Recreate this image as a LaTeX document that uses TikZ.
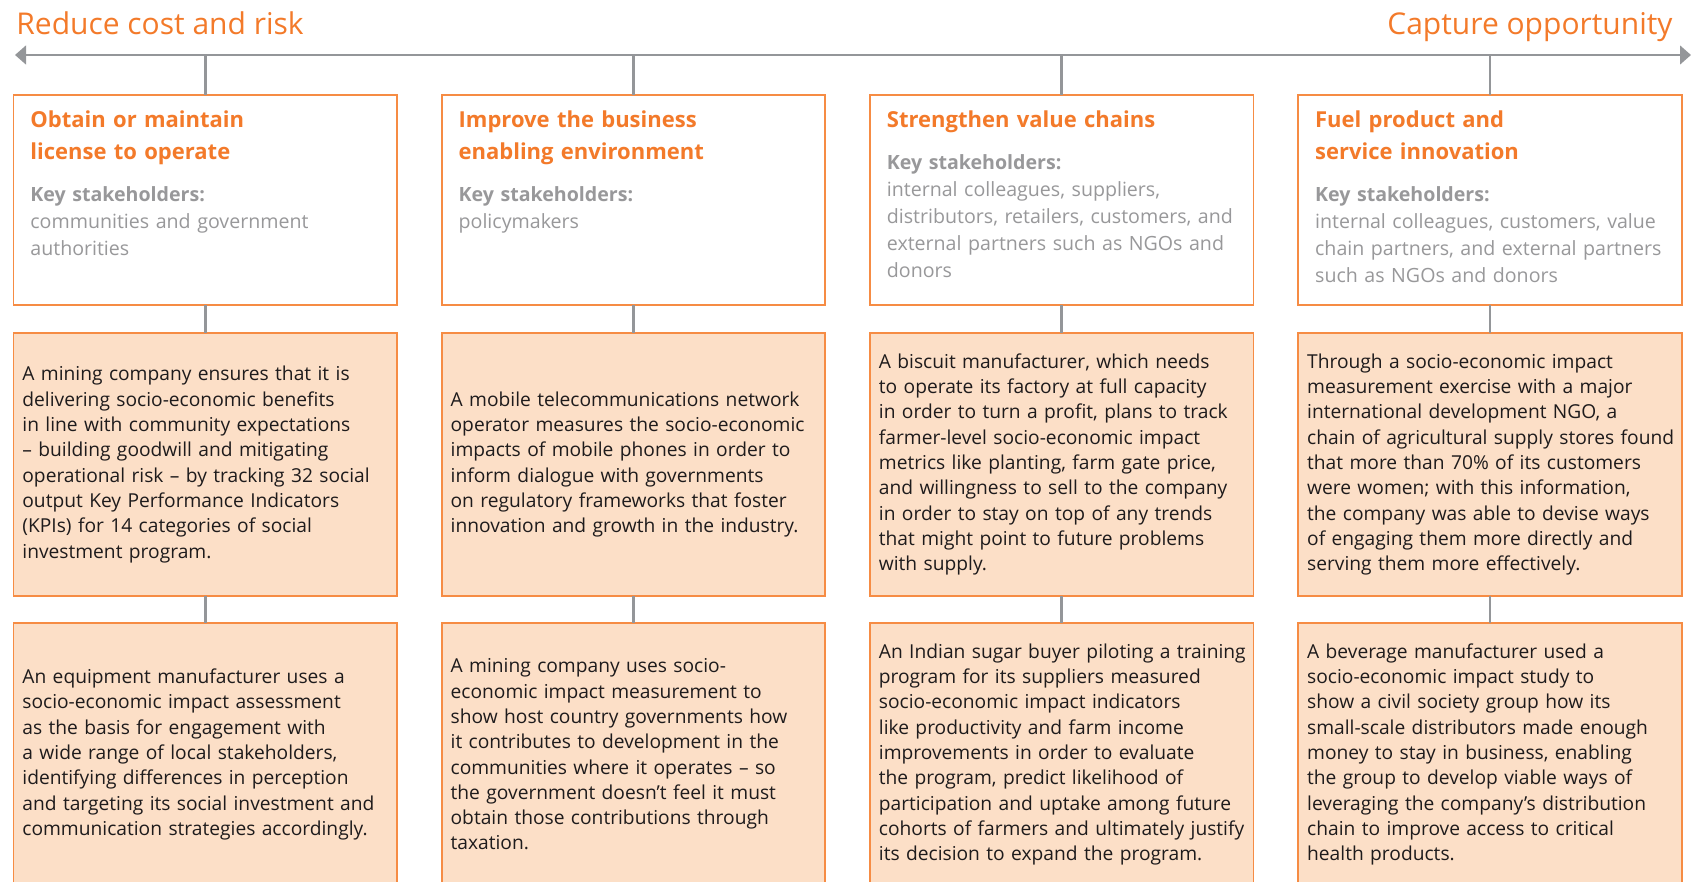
\documentclass[tikz,border=0pt]{standalone}
\usepackage{fontspec}
\setmainfont{Open Sans}
\usetikzlibrary{positioning,arrows.meta}
\definecolor{fsgorange}{RGB}{243,122,42}
\definecolor{rimorange}{RGB}{246,140,68}
\definecolor{peach}{RGB}{252,223,199}
\definecolor{spine}{RGB}{148,150,153}
\definecolor{keygray}{RGB}{152,152,154}
\definecolor{ink}{RGB}{30,27,28}
\begin{document}
\begin{tikzpicture}[x=0.5pt,y=-0.5pt,
  goal/.style={draw=rimorange,line width=0.9pt,fill=white,minimum width=191.75pt,
    minimum height=105pt,inner sep=0pt,outer sep=0pt},
  case/.style={draw=rimorange,line width=0.9pt,fill=peach,minimum width=191.75pt,
    minimum height=131.5pt,inner sep=0pt,outer sep=0pt},
  link/.style={draw=spine,line width=1.3pt},
  head/.style={text=fsgorange,font=\fontsize{15}{18}\selectfont,inner sep=0pt},
  goaltitle/.style={anchor=base west,text=fsgorange,font=\fontsize{11}{16}\selectfont\bfseries,
    text width=180pt,align=left,inner sep=0pt},
  stake/.style={anchor=base west,text=keygray,font=\fontsize{9.8}{13.4}\selectfont,
    text width=190pt,align=left,inner sep=0pt},
  story/.style={anchor=west,text=ink,font=\fontsize{9.6}{12.65}\selectfont,
    text width=200pt,align=left,inner sep=0pt}]
  \useasboundingbox (0,0) rectangle (1705,882);
  \clip (0,0) rectangle (1705,882);
  \node[head,anchor=base west] (cost) at (16,35) {Reduce cost and risk};
  \node[head,anchor=base east] (opp) at (1673,35) {Capture opportunity};
  \coordinate (left) at (15,55);
  \coordinate (right) at (1691,55);
  \draw[link,{Triangle[length=5.5pt,width=9.3pt]}-{Triangle[length=5.5pt,width=9.3pt]}] (left)--(right);

  \node[goal] (g1) at (205.25,200) {};
  \node[goal,right=22.375pt of g1] (g2) {};
  \node[goal,right=22.375pt of g2] (g3) {};
  \node[goal,right=22.375pt of g3] (g4) {};
  \node[case,below=14pt of g1] (c1) {};
  \node[case,below=14pt of g2] (c2) {};
  \node[case,below=14pt of g3] (c3) {};
  \node[case,below=14pt of g4] (c4) {};
  \node[case,below=13.5pt of c1] (d1) {};
  \node[case,below=13.5pt of c2] (d2) {};
  \node[case,below=13.5pt of c3] (d3) {};
  \node[case,below=13.5pt of c4] (d4) {};

  \draw[link] (g1.north |- left) -- (g1.north) (g1.south) -- (c1.north) (c1.south) -- (d1.north);
  \draw[link] (g2.north |- left) -- (g2.north) (g2.south) -- (c2.north) (c2.south) -- (d2.north);
  \draw[link] (g3.north |- left) -- (g3.north) (g3.south) -- (c3.north) (c3.south) -- (d3.north);
  \draw[link] (g4.north |- left) -- (g4.north) (g4.south) -- (c4.north) (c4.south) -- (d4.north);

  \node[goaltitle] (g1t) at ([shift={(16.5,33)}]g1.north west) {Obtain or maintain\\license to operate};
  \node[stake] (g1k) at ([shift={(16.5,107)}]g1.north west)
  {\textbf{Key stakeholders:}\\communities and government\\authorities};
  \node[goaltitle] (g2t) at ([shift={(16.5,33)}]g2.north west) {Improve the business\\enabling environment};
  \node[stake] (g2k) at ([shift={(16.5,107)}]g2.north west)
  {\textbf{Key stakeholders:}\\policymakers};
  \node[goaltitle] (g3t) at ([shift={(16.5,33)}]g3.north west) {Strengthen value chains};
  \node[stake] (g3k) at ([shift={(16.5,75)}]g3.north west)
  {\textbf{Key stakeholders:}\\internal colleagues, suppliers,\\distributors, retailers, customers, and\\external partners such as NGOs and\\donors};
  \node[goaltitle] (g4t) at ([shift={(16.5,33)}]g4.north west) {Fuel product and\\service innovation};
  \node[stake] (g4k) at ([shift={(16.5,107)}]g4.north west)
  {\textbf{Key stakeholders:}\\internal colleagues, customers, value\\chain partners, and external partners\\such as NGOs and donors};

  \node[story] (c1t) at ([shift={(8.5,0)}]c1.west)
  {A mining company ensures that it is\\delivering socio-economic benefits\\in line with community expectations\\– building goodwill and mitigating\\operational risk – by tracking 32 social\\output Key Performance Indicators\\(KPIs) for 14 categories of social\\investment program.};
  \node[story] (c2t) at ([shift={(8.5,0)}]c2.west)
  {A mobile telecommunications network\\operator measures the socio-economic\\impacts of mobile phones in order to\\inform dialogue with governments\\on regulatory frameworks that foster\\innovation and growth in the industry.};
  \node[story] (c3t) at ([shift={(8.5,0)}]c3.west)
  {A biscuit manufacturer, which needs\\to operate its factory at full capacity\\in order to turn a profit, plans to track\\farmer-level socio-economic impact\\metrics like planting, farm gate price,\\and willingness to sell to the company\\in order to stay on top of any trends\\that might point to future problems\\with supply.};
  \node[story] (c4t) at ([shift={(8.5,0)}]c4.west)
  {Through a socio-economic impact\\measurement exercise with a major\\international development NGO, a\\chain of agricultural supply stores found\\that more than 70\% of its customers\\were women; with this information,\\the company was able to devise ways\\of engaging them more directly and\\serving them more effectively.};

  \node[story] (d1t) at ([shift={(8.5,0)}]d1.west)
  {An equipment manufacturer uses a\\socio-economic impact assessment\\as the basis for engagement with\\a wide range of local stakeholders,\\identifying differences in perception\\and targeting its social investment and\\communication strategies accordingly.};
  \node[story] (d2t) at ([shift={(8.5,0)}]d2.west)
  {A mining company uses socio-\\economic impact measurement to\\show host country governments how\\it contributes to development in the\\communities where it operates – so\\the government doesn’t feel it must\\obtain those contributions through\\taxation.};
  \node[story] (d3t) at ([shift={(8.5,0)}]d3.west)
  {An Indian sugar buyer piloting a training\\program for its suppliers measured\\socio-economic impact indicators\\like productivity and farm income\\improvements in order to evaluate\\the program, predict likelihood of\\participation and uptake among future\\cohorts of farmers and ultimately justify\\its decision to expand the program.};
  \node[story] (d4t) at ([shift={(8.5,0)}]d4.west)
  {A beverage manufacturer used a\\socio-economic impact study to\\show a civil society group how its\\small-scale distributors made enough\\money to stay in business, enabling\\the group to develop viable ways of\\leveraging the company’s distribution\\chain to improve access to critical\\health products.};
\end{tikzpicture}
\end{document}
